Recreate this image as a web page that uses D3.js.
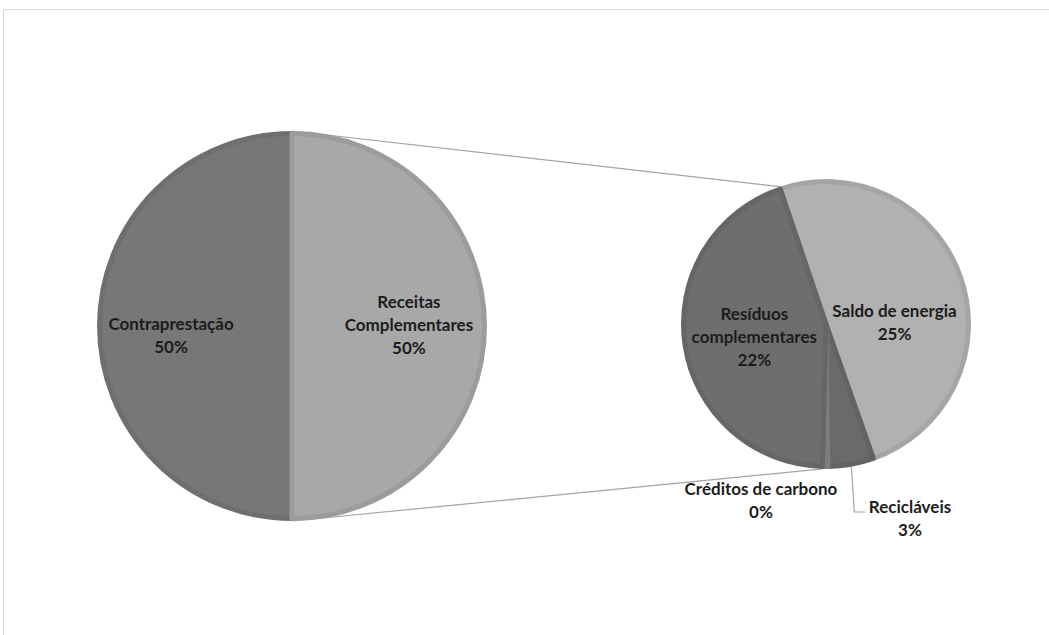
<!DOCTYPE html>
<html>
<head>
<meta charset="utf-8">
<script src="https://cdn.jsdelivr.net/npm/d3@7"></script>
<style>
  html, body { margin: 0; padding: 0; background: #ffffff; }
  svg { display: block; }
  .lbl { font-family: Lato, "Open Sans", sans-serif; font-weight: 700; font-size: 17px; fill: #1c1c1c; }
</style>
</head>
<body>
<svg id="chart" width="1049" height="635"></svg>
<script>
// Revenue composition: main pie split into a secondary pie for "Receitas Complementares"
const mainCategories = ["Contraprestação", "Receitas Complementares"];
const mainLabelLines = [["Contraprestação"], ["Receitas", "Complementares"]];
const contraprestacaoValue = 50;

const subCategories = ["Saldo de energia", "Recicláveis", "Créditos de carbono", "Resíduos complementares"];
const subLabelLines = [["Saldo de energia"], ["Recicláveis"], ["Créditos de carbono"], ["Resíduos", "complementares"]];
const subValues = [24.9, 2.6, 0.3, 22.2];

const mainValues = [contraprestacaoValue, d3.sum(subValues)];
const grandTotal = d3.sum(mainValues);
const pct = d3.format(".0%");

const svg = d3.select("#chart");
const W = 1049, H = 635;

// chart frame
svg.append("rect")
  .attr("x", 3.5).attr("y", 9.5)
  .attr("width", W + 10).attr("height", H + 10)
  .attr("fill", "#ffffff")
  .attr("stroke", "#d9d9d9").attr("stroke-width", 1);

// geometry
const main = { cx: 292, cy: 326, r: 195 };
const sub  = { cx: 826, cy: 324, r: 145 };
const rimWidth = 5;

const mainColor = d3.scaleOrdinal().domain(mainCategories).range(["#777777", "#a8a8a8"]);
const subColor = d3.scaleOrdinal().domain(subCategories).range(["#b1b1b1", "#6a6a6a", "#868686", "#6e6e6e"]);

const deg = Math.PI / 180;

// main pie: Receitas Complementares occupies the right half (0° → 180°)
const mainPie = d3.pie().sort(null).value(d => d.value)
  .startAngle(-180 * deg).endAngle(180 * deg);
const mainData = mainPie(mainCategories.map((c, i) => ({ cat: c, value: mainValues[i], lines: mainLabelLines[i] })));

// secondary pie rotated so its first slice starts just left of the top
const subStart = -18.7 * deg;
const subPie = d3.pie().sort(null).value(d => d.value)
  .startAngle(subStart).endAngle(subStart + 2 * Math.PI);
const subData = subPie(subCategories.map((c, i) => ({ cat: c, value: subValues[i], lines: subLabelLines[i] })));

const polar = (p, a, r) => [p.cx + r * Math.sin(a), p.cy - r * Math.cos(a)];

// series lines joining the split half to the secondary pie
const receitas = mainData[1];
const subFirst = subData[0];
const subLastBoundary = subData[3].startAngle;
const connectors = [
  [polar(main, receitas.startAngle, main.r), polar(sub, subFirst.startAngle, sub.r)],
  [polar(main, receitas.endAngle, main.r), polar(sub, subLastBoundary, sub.r)]
];
svg.append("g").selectAll("line").data(connectors).join("line")
  .attr("x1", d => d[0][0]).attr("y1", d => d[0][1])
  .attr("x2", d => d[1][0]).attr("y2", d => d[1][1])
  .attr("stroke", "#a3a3a3").attr("stroke-width", 1.2);

// slices
const mainArc = d3.arc().innerRadius(0).outerRadius(main.r - rimWidth / 2);
svg.append("g").attr("transform", `translate(${main.cx},${main.cy})`)
  .selectAll("path").data(mainData).join("path")
  .attr("d", mainArc)
  .attr("fill", d => mainColor(d.data.cat))
  .attr("stroke", d => d3.color(mainColor(d.data.cat)).darker(0.2))
  .attr("stroke-width", rimWidth)
  .attr("stroke-linejoin", "round");

const subArc = d3.arc().innerRadius(0).outerRadius(sub.r - rimWidth / 2);
svg.append("g").attr("transform", `translate(${sub.cx},${sub.cy})`)
  .selectAll("path").data(subData).join("path")
  .attr("d", subArc)
  .attr("fill", d => subColor(d.data.cat))
  .attr("stroke", d => d3.color(subColor(d.data.cat)).darker(0.2))
  .attr("stroke-width", rimWidth)
  .attr("stroke-linejoin", "round");

// label layout
const lineHeight = 23;
const mainLabelArc = d3.arc().innerRadius(main.r * 0.61).outerRadius(main.r * 0.61);
const subLabelArc = d3.arc().innerRadius(sub.r * 0.5).outerRadius(sub.r * 0.5);

// first-baseline nudges for labels drawn inside slices
const insideNudge = {
  "Contraprestação": [-2, 4],
  "Receitas Complementares": [-2, -18],
  "Saldo de energia": [0, 17],
  "Resíduos complementares": [0, -15]
};
// labels placed below the secondary pie (offsets from its center)
const outsideSpot = {
  "Créditos de carbono": [-65, 171],
  "Recicláveis": [84, 189]
};

function drawLabel(g, x, y, lines, value) {
  const t = g.append("text").attr("class", "lbl").attr("text-anchor", "middle");
  lines.concat([pct(value / grandTotal)]).forEach((s, i) => {
    t.append("tspan").attr("x", x).attr("y", y + i * lineHeight).text(s);
  });
}

const labels = svg.append("g");
mainData.forEach(d => {
  const [cx, cy] = mainLabelArc.centroid(d);
  const n = insideNudge[d.data.cat];
  drawLabel(labels, main.cx + cx + n[0], main.cy + cy + n[1], d.data.lines, d.data.value);
});

subData.forEach(d => {
  if (insideNudge[d.data.cat]) {
    const [cx, cy] = subLabelArc.centroid(d);
    const n = insideNudge[d.data.cat];
    drawLabel(labels, sub.cx + cx + n[0], sub.cy + cy + n[1], d.data.lines, d.data.value);
  } else {
    const o = outsideSpot[d.data.cat];
    const lx = sub.cx + o[0], ly = sub.cy + o[1];
    if (d.data.cat === "Recicláveis") {
      const mid = (d.startAngle + d.endAngle) / 2;
      const p0 = polar(sub, mid, sub.r);
      const textLeft = lx - 45;
      svg.append("polyline")
        .attr("points", [p0, [p0[0] + 3, ly - 1], [textLeft, ly - 1]].map(p => p.join(",")).join(" "))
        .attr("fill", "none").attr("stroke", "#a3a3a3").attr("stroke-width", 1.2);
    }
    drawLabel(labels, lx, ly, d.data.lines, d.data.value);
  }
});
</script>
</body>
</html>
